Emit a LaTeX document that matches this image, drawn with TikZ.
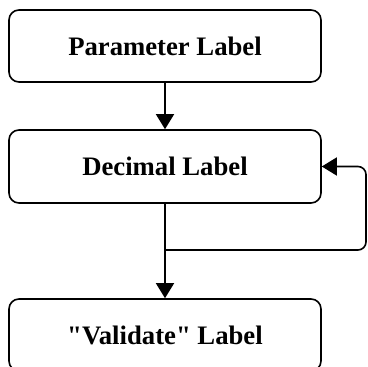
\documentclass[tikz,border=0pt]{standalone}
\usepackage{fontspec}
\setmainfont{Liberation Serif}[Ligatures=TeXOff]
\usetikzlibrary{arrows.meta}
\begin{document}
\begin{tikzpicture}[x=1bp,y=1bp,
  box/.style={draw=black, line width=1.6bp, rounded corners=10bp, minimum width=312bp, minimum height=72bp, inner sep=0pt, font=\fontsize{26.8}{30}\selectfont\bfseries},
  conn/.style={draw=black, line width=1.6bp, -{Triangle[length=15bp,width=18bp]}}]
\useasboundingbox (0,0) rectangle (368,367);
\clip (0,0) rectangle (368,367);
\node[box] (p) at (165,321) {Parameter Label};
\node[box, minimum height=73bp] (d) at (165,200.5) {Decimal Label};
\node[box] (v) at (165,32) {"Validate" Label};
\coordinate (j) at (165,117);
\coordinate (r) at (366,117);
\coordinate (rt) at (366,200.5);
\draw[conn] (p) -- (d);
\draw[line width=1.6bp] (d.south) -- (j);
\draw[conn] (j) -- (v.north);
\draw[conn, rounded corners=8bp] (j) -- (r) -- (rt) -- (d.east);
\end{tikzpicture}
\end{document}
